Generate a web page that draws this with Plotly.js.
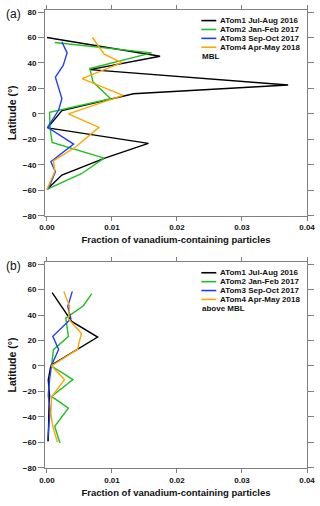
<!DOCTYPE html>
<html>
<head>
<meta charset="utf-8">
<script src="https://cdn.plot.ly/plotly-3.0.1.min.js"></script>
<style>
  html, body { margin: 0; padding: 0; background: #fff; }
  #chart { width: 320px; height: 506px; }
</style>
</head>
<body>
<div id="chart"></div>
<script>
// Campaign names and colours
const campaigns = ['ATom1 Jul-Aug 2016', 'ATom2 Jan-Feb 2017', 'ATom3 Sep-Oct 2017', 'ATom4 Apr-May 2018'];
const colors = ['#000000', '#1fbf1f', '#1f3fff', '#ffa500'];

// (a) MBL - latitude (deg) and fraction of V-containing particles
const mblLat1 = [60, 45.3, 34.8, 22.7, 15.8, 2.6, -11, -23.2, -34.8, -48, -59.3];
const mblVal1 = [0, 0.0174, 0.0066, 0.0371, 0.0133, 0.0023, 0.0001, 0.0156, 0.0089, 0.0023, 0];
const mblLat2 = [56.1, 47.9, 35.6, 25, 11.9, 1.3, -11.9, -22.4, -34.8, -47, -59.3];
const mblVal2 = [0.0012, 0.0161, 0.0066, 0.0071, 0.0098, 0.0004, 0.0005, 0.0008, 0.0088, 0.0053, 0];
const mblLat3 = [56.6, 47.9, 38, 28.9, 11.9, 3, -10.6, -23.7, -37.5, -45.4, -59];
const mblVal3 = [0.0023, 0.0031, 0.0025, 0.0013, 0.0023, 0.0018, 0.0001, 0.0041, 0.0006, 0.0013, 0.0002];
const mblLat4 = [60, 46.9, 40.3, 27.7, 14.5, 0, -10.6, -26, -36.9, -45.4, -59.3];
const mblVal4 = [0.0070, 0.0088, 0.0115, 0.0054, 0.0117, 0.0033, 0.0080, 0.0044, 0.0010, 0.0012, 0];

// (b) above MBL
const ftLat1 = [57.5, 35, 22.7, 0.5, -11, -23, -35, -47, -59];
const ftVal1 = [0.0008, 0.0038, 0.0078, 0.0006, 0.0002, 0.0004, 0.0003, 0.0002, 0.0002];
const ftLat2 = [56.7, 47.3, 37.6, 23.2, 12.8, 0, -10.7, -23.8, -33, -47.4, -60.4];
const ftVal2 = [0.0069, 0.0056, 0.0029, 0.0033, 0.0010, 0.0007, 0.0040, 0.0007, 0.0033, 0.0012, 0.0020];
const ftLat3 = [58.5, 46.6, 37, 23.3, 13, 0.6, -11, -23, -35, -47, -59];
const ftVal3 = [0.0039, 0.0032, 0.0037, 0.0009, 0.0018, 0.0007, 0.0004, 0.0002, 0.0005, 0.0003, 0.0001];
const ftLat4 = [58.4, 46.6, 37, 25.5, 13, 0, -10.7, -24.4, -37, -47.4, -59.6];
const ftVal4 = [0.0026, 0.0035, 0.0033, 0.0053, 0.0047, 0.0007, 0.0027, 0.0007, 0.0006, 0.0009, 0.0016];

const yTicks = [-80, -60, -40, -20, 0, 20, 40, 60, 80];
const xTicks = [0, 0.01, 0.02, 0.03, 0.04];
const xTickText = ['0.00', '0.01', '0.02', '0.03', '0.04'];
const panelLabels = ['(a)', '(b)'];
const regionLabels = ['MBL', 'above MBL'];

const mbl = [[mblLat1, mblVal1], [mblLat2, mblVal2], [mblLat3, mblVal3], [mblLat4, mblVal4]];
const ft = [[ftLat1, ftVal1], [ftLat2, ftVal2], [ftLat3, ftVal3], [ftLat4, ftVal4]];

// pixel helpers for the hand-drawn legend
const W = 320, H = 506;
const M = { l: 45, r: 12.7, t: 9.7, b: 37.7 };
const px2x = px => (px - M.l) / (W - M.l - M.r);
const py2y = py => (H - M.b - py) / (H - M.t - M.b);

const FONT = 'Liberation Sans, Arial, sans-serif';

const data = [];
[mbl, ft].forEach((panel, p) => {
    panel.forEach(([lat, val], i) => {
        data.push({
            type: 'scatter',
            mode: 'lines',
            x: val,
            y: lat,
            xaxis: p === 0 ? 'x' : 'x2',
            yaxis: p === 0 ? 'y' : 'y2',
            line: { color: colors[i], width: 1.4 },
            name: campaigns[i],
            showlegend: false,
            hoverinfo: 'skip'
        });
    });
});

const xAxisFor = anchor => ({
    anchor,
    range: [-0.0003, 0.04],
    tickvals: xTicks,
    ticktext: xTickText,
    ticks: 'outside',
    ticklen: 4,
    tickcolor: '#808080',
    showline: true,
    linecolor: '#808080',
    mirror: 'ticks',
    showgrid: false,
    zeroline: false,
    tickfont: { family: FONT, size: 8, weight: 'bold', color: '#111' },
    title: {
        text: 'Fraction of vanadium-containing particles',
        font: { family: FONT, size: 9.5, weight: 'bold', color: '#111' },
        standoff: 5
    }
});

const yAxisFor = (anchor, domain) => ({
    anchor,
    domain,
    range: [-80, 81.6],
    tickvals: yTicks,
    ticks: 'outside',
    ticklen: 6,
    tickcolor: '#808080',
    showline: true,
    linecolor: '#808080',
    mirror: 'ticks',
    showgrid: false,
    zeroline: false,
    tickfont: { family: FONT, size: 8, weight: 'bold', color: '#111' },
    title: {
        text: 'Latitude (°)',
        font: { family: FONT, size: 10.5, weight: 'bold', color: '#111' },
        standoff: 4
    }
});

const shapes = [];
const annotations = [];
// legend rows, in px, relative to each panel top
const panelTop = [0, 252.5];
const rowY = [20.3, 29.2, 38.1, 47];
const regionY = 56;
panelTop.forEach((top, p) => {
    campaigns.forEach((name, i) => {
        const y = py2y(top + rowY[i]);
        shapes.push({
            type: 'line', xref: 'paper', yref: 'paper',
            x0: px2x(201.5), x1: px2x(216.5), y0: y, y1: y,
            line: { color: colors[i], width: 1.6 }
        });
        annotations.push({
            xref: 'paper', yref: 'paper', x: px2x(219.5), y,
            xanchor: 'left', yanchor: 'middle', showarrow: false,
            text: name, borderpad: 0,
            font: { family: FONT, size: 8, weight: 'bold', color: '#111' }
        });
    });
    annotations.push({
        xref: 'paper', yref: 'paper', x: px2x(201), y: py2y(top + regionY),
        xanchor: 'left', yanchor: 'middle', showarrow: false,
        text: regionLabels[p], borderpad: 0,
        font: { family: FONT, size: 8, weight: 'bold', color: '#111' }
    });
    annotations.push({
        xref: 'paper', yref: 'paper', x: px2x(3.5), y: py2y(top + 14),
        xanchor: 'left', yanchor: 'middle', showarrow: false,
        text: panelLabels[p],
        font: { family: FONT, size: 12, color: '#111' }
    });
});

const layout = {
    width: W,
    height: H,
    margin: M,
    paper_bgcolor: '#fff',
    plot_bgcolor: '#fff',
    showlegend: false,
    xaxis: xAxisFor('y'),
    yaxis: yAxisFor('x', [py2y(215.7), 1]),
    xaxis2: xAxisFor('y2'),
    yaxis2: yAxisFor('x2', [0, py2y(262)]),
    shapes,
    annotations
};

Plotly.newPlot('chart', data, layout, { displayModeBar: false, staticPlot: true });
</script>
</body>
</html>
